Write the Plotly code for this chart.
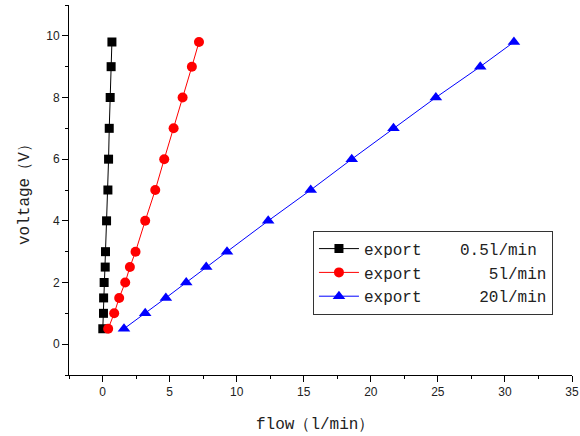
import plotly.graph_objects as go

voltage = [0.5, 1, 1.5, 2, 2.5, 3, 4, 5, 6, 7, 8, 9, 9.8]
flow_05 = [0.02, 0.07, 0.08, 0.12, 0.2, 0.22, 0.3, 0.4, 0.45, 0.5, 0.57, 0.64, 0.7]
flow_5 = [0.42, 0.87, 1.24, 1.69, 2.04, 2.46, 3.18, 3.93, 4.6, 5.3, 5.97, 6.66, 7.19]
flow_20 = [1.6, 3.18, 4.72, 6.24, 7.73, 9.28, 12.35, 15.52, 18.58, 21.69, 24.85, 28.16, 30.67]
NB = "\u00a0"
names = ["export" + NB * 4 + "0.5l/min",
         "export" + NB * 7 + "5l/min",
         "export" + NB * 6 + "20l/min"]
x_title = "flow（l/min）"
y_title = "voltage（V）"

TITLE_FONT = dict(family="Liberation Mono, monospace", size=16, color="#222")

fig = go.Figure()
fig.add_trace(go.Scatter(x=flow_05, y=voltage, name=names[0], mode="lines+markers",
                         line=dict(color="black", width=1),
                         marker=dict(symbol="square", size=9, color="black")))
fig.add_trace(go.Scatter(x=flow_5, y=voltage, name=names[1], mode="lines+markers",
                         line=dict(color="red", width=1),
                         marker=dict(symbol="circle", size=10, color="red")))
fig.add_trace(go.Scatter(x=flow_20, y=voltage, name=names[2], mode="lines+markers",
                         line=dict(color="blue", width=1),
                         marker=dict(symbol="triangle-up", size=11, color="blue")))

axis_common = dict(showline=True, linecolor="black", linewidth=1, ticks="outside",
                   ticklen=6, tickcolor="black", showgrid=False, zeroline=False,
                   tickfont=dict(family="Liberation Sans, Arial", size=12, color="#222"),
                   mirror=False, automargin=False)
fig.update_xaxes(range=[-2.5, 35], dtick=5, tick0=0,
                 minor=dict(ticks="outside", ticklen=3, dtick=2.5, tick0=0, tickcolor="black"),
                 **axis_common)
fig.update_yaxes(range=[-1, 11], dtick=2, tick0=0,
                 minor=dict(ticks="outside", ticklen=3, dtick=1, tick0=0, tickcolor="black"),
                 **axis_common)

fig.add_annotation(text=x_title, xref="paper", yref="paper", x=0.49, y=-0.135,
                   xanchor="center", yanchor="middle", showarrow=False, font=TITLE_FONT)
fig.add_annotation(text=y_title, xref="paper", yref="paper", x=-0.0875, y=0.5,
                   xanchor="center", yanchor="middle", showarrow=False, textangle=-90,
                   font=TITLE_FONT)

fig.update_layout(width=580, height=436, margin=dict(l=69, r=8, t=5, b=61),
                  plot_bgcolor="white", paper_bgcolor="white",
                  legend=dict(x=0.485, y=0.39, xanchor="left", yanchor="top",
                              bordercolor="#333", borderwidth=1, bgcolor="white",
                              font=dict(family="Liberation Mono, monospace", size=16, color="#222"),
                              tracegroupgap=0, itemwidth=40),
                  showlegend=True)

fig.write_html("out.html", config={"displayModeBar": False},
               post_script="document.body.style.margin='0';document.body.style.padding='0';")
